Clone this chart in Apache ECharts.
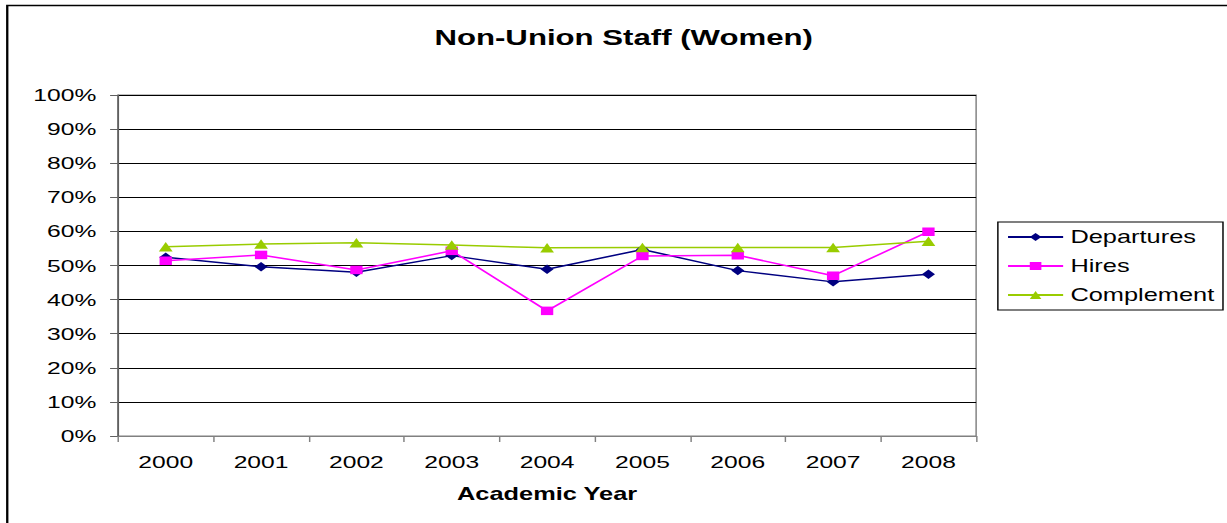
<!DOCTYPE html>
<html>
<head>
<meta charset="utf-8">
<script src="https://cdn.jsdelivr.net/npm/echarts@6/dist/echarts.min.js"></script>
<style>
html,body{margin:0;padding:0;background:#fff;overflow:hidden;width:1227px;height:523px;}
/* the reference is an Excel chart stretched horizontally; draw at native width and stretch */
#chart{width:846px;height:523px;transform:scaleX(1.4504);transform-origin:0 0;}
</style>
</head>
<body>
<div id="chart"></div>
<script>
const categories = ['2000','2001','2002','2003','2004','2005','2006','2007','2008'];
const departures = [52.4, 49.6, 48.0, 52.9, 48.9, 54.7, 48.5, 45.2, 47.4];
const hires      = [51.4, 53.1, 48.7, 54.3, 36.7, 52.8, 53.0, 47.0, 59.9];
const complement = [55.5, 56.3, 56.7, 56.0, 55.2, 55.3, 55.3, 55.3, 57.1];

const FONT = 'Liberation Sans, Arial, sans-serif';
const chart = echarts.init(document.getElementById('chart'), null, {renderer:'svg', width: 846, height: 523});
chart.setOption({
  animation: false,
  backgroundColor: '#fff',
  graphic: [{
    type: 'rect',
    shape: {x: 5.0, y: 5.5, width: 900, height: 540},
    style: {fill: 'none', stroke: '#000', lineWidth: 1.6},
    silent: true
  }],
  title: {
    text: 'Non-Union Staff (Women)',
    left: 425, top: 22, textAlign: 'center',
    textStyle: {fontFamily: FONT, fontWeight: 'bold', fontSize: 21.5, color: '#000'}
  },
  legend: {
    orient: 'vertical',
    left: 688, top: 222,
    itemWidth: 38, itemHeight: 10, itemGap: 11,
    padding: [6, 6, 6, 6],
    borderColor: '#000', borderWidth: 1,
    textStyle: {fontFamily: FONT, fontSize: 17.5, color: '#000'},
    data: ['Departures','Hires','Complement']
  },
  grid: {left: 81.4, right: 173, top: 95, bottom: 87, show: true, borderColor: '#808080', borderWidth: 1},
  xAxis: {
    type: 'category', data: categories, boundaryGap: true,
    name: 'Academic Year', nameLocation: 'middle', nameGap: 49,
    nameTextStyle: {fontFamily: FONT, fontWeight: 'bold', fontSize: 17.5, color: '#000'},
    axisLine: {lineStyle: {color: '#808080', width: 1}},
    axisTick: {show: true, length: 6, alignWithLabel: false, lineStyle: {color: '#808080'}},
    axisLabel: {fontFamily: FONT, fontSize: 17, color: '#000', margin: 17}
  },
  yAxis: {
    type: 'value', min: 0, max: 100, interval: 10,
    axisLine: {show: true, lineStyle: {color: '#606060', width: 1.2}},
    axisTick: {show: true, length: 5.5, lineStyle: {color: '#606060'}},
    axisLabel: {fontFamily: FONT, fontSize: 17, color: '#000', margin: 15, formatter: '{value}%'},
    splitLine: {lineStyle: {color: '#000', width: 1}}
  },
  series: [
    {name: 'Departures', type: 'line', data: departures, symbol: 'diamond', symbolSize: [9, 9.5],
     itemStyle: {color: '#000080'}, lineStyle: {color: '#000080', width: 1.5}},
    {name: 'Hires', type: 'line', data: hires, symbol: 'rect', symbolSize: [8.5, 8.5],
     itemStyle: {color: '#FF00FF'}, lineStyle: {color: '#FF00FF', width: 1.5}},
    {name: 'Complement', type: 'line', data: complement, symbol: 'triangle', symbolSize: [9.5, 9.5],
     itemStyle: {color: '#99CC00'}, lineStyle: {color: '#99CC00', width: 1.5}}
  ]
});
</script>
</body>
</html>
